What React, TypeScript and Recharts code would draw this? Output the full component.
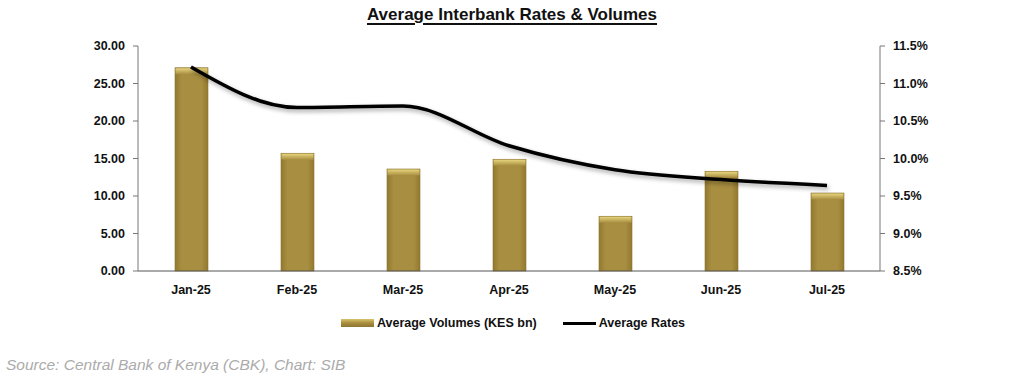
import React from 'react';
import { ComposedChart, Bar, Line, XAxis, YAxis, Legend } from 'recharts';

const months = ['Jan-25', 'Feb-25', 'Mar-25', 'Apr-25', 'May-25', 'Jun-25', 'Jul-25'];
const volumes = [27.1, 15.7, 13.6, 14.9, 7.3, 13.3, 10.4];
const rates = [11.22, 10.68, 10.7, 10.17, 9.85, 9.72, 9.64];
const volumeTicks = [0, 5, 10, 15, 20, 25, 30];
const rateTicks = [8.5, 9, 9.5, 10, 10.5, 11, 11.5];
const boundaryTicks = [0, 1, 2, 3, 4, 5, 6, 7];

const data = months.map((m, i) => ({ month: m, idx: i + 0.5, volume: volumes[i], rate: rates[i] }));

const FONT = '"Liberation Sans Narrow", "Liberation Sans", Arial, sans-serif';

const GoldBar = (props: any) => {
  const { x, y, width, height } = props;
  if (!height || height <= 0) return null;
  const cap = Math.min(6, height);
  return (
    <g>
      <rect x={x} y={y} width={width} height={height} fill="url(#goldBody)" stroke="#8c7431" strokeWidth={0.6} />
      <rect x={x + 0.5} y={y + 0.5} width={width - 1} height={cap} fill="url(#goldCap)" />
    </g>
  );
};

const LegendContent = () => (
  <div style={{ display: 'flex', justifyContent: 'center', alignItems: 'center', fontFamily: FONT, fontWeight: 'bold', fontSize: 12.5, color: '#111', height: 20, paddingLeft: 8 }}>
    <span style={{ display: 'inline-block', width: 33, height: 8, background: 'linear-gradient(#d8c46c, #a88d3e 50%, #8f7630)', marginRight: 3 }} />
    <span style={{ marginRight: 26 }}>Average Volumes (KES bn)</span>
    <span style={{ display: 'inline-block', width: 33, height: 3, background: '#000', marginRight: 3 }} />
    <span>Average Rates</span>
  </div>
);

export default function App() {
  return (
    <div style={{ position: 'absolute', left: 0, top: 0, width: 1024, height: 388, background: '#fff' }}>
      <div style={{ position: 'absolute', left: 0, top: 5, width: 1024, textAlign: 'center', fontFamily: FONT, fontWeight: 'bold', fontSize: 17, color: '#111', textDecoration: 'underline', textUnderlineOffset: 3, textDecorationThickness: 2 }}>
        Average Interbank Rates &amp; Volumes
      </div>
      <ComposedChart width={1024} height={388} data={data} margin={{ top: 46, right: 84, bottom: 55, left: 78 }}>
        <defs>
          <linearGradient id="goldBody" x1="0" y1="0" x2="1" y2="0">
            <stop offset="0%" stopColor="#93792f" />
            <stop offset="20%" stopColor="#a88e40" />
            <stop offset="80%" stopColor="#a88e40" />
            <stop offset="100%" stopColor="#93792f" />
          </linearGradient>
          <linearGradient id="goldCap" x1="0" y1="0" x2="0" y2="1">
            <stop offset="0%" stopColor="#e6d47e" />
            <stop offset="100%" stopColor="#a88e40" />
          </linearGradient>
          <filter id="lineShadow" x="-10%" y="-30%" width="120%" height="160%">
            <feDropShadow dx="1.5" dy="2.5" stdDeviation="2" floodColor="#000" floodOpacity="0.35" />
          </filter>
        </defs>
        <XAxis
          dataKey="month"
          xAxisId="cat"
          tickLine={false}
          tickSize={0}
          tickMargin={14}
          axisLine={{ stroke: '#555', strokeWidth: 1 }}
          tick={{ fontFamily: FONT, fontWeight: 'bold', fontSize: 12.5, fill: '#111' }}
          height={42}
          interval={0}
        />
        <XAxis
          xAxisId="grid"
          type="number"
          dataKey="idx"
          domain={[0, 7]}
          ticks={boundaryTicks}
          tick={false}
          axisLine={false}
          tickLine={{ stroke: '#999' }}
          tickSize={5}
          height={0}
        />
        <YAxis
          yAxisId="vol"
          orientation="left"
          domain={[0, 30]}
          ticks={volumeTicks}
          tickFormatter={(v: number) => v.toFixed(2)}
          width={60}
          tickSize={5}
          tickMargin={8}
          axisLine={{ stroke: '#777' }}
          tickLine={{ stroke: '#777' }}
          tick={{ fontFamily: FONT, fontWeight: 'bold', fontSize: 12.5, fill: '#111' }}
        />
        <YAxis
          yAxisId="rate"
          orientation="right"
          domain={[8.5, 11.5]}
          ticks={rateTicks}
          tickFormatter={(v: number) => v.toFixed(1) + '%'}
          width={60}
          tickSize={5}
          tickMargin={8}
          axisLine={{ stroke: '#777' }}
          tickLine={{ stroke: '#777' }}
          tick={{ fontFamily: FONT, fontWeight: 'bold', fontSize: 12.5, fill: '#111' }}
        />
        <Legend verticalAlign="bottom" content={<LegendContent />} />
        <Bar
          xAxisId="cat"
          yAxisId="vol"
          dataKey="volume"
          name="Average Volumes (KES bn)"
          barSize={33}
          shape={<GoldBar />}
          isAnimationActive={false}
        />
        <Line
          xAxisId="cat"
          yAxisId="rate"
          dataKey="rate"
          name="Average Rates"
          type="monotone"
          stroke="#000"
          strokeWidth={3.5}
          dot={false}
          activeDot={false}
          filter="url(#lineShadow)"
          isAnimationActive={false}
        />
      </ComposedChart>
      <div style={{ position: 'absolute', left: 6, top: 356, fontFamily: FONT, fontStyle: 'italic', fontSize: 15.5, color: '#ababab' }}>
        Source: Central Bank of Kenya (CBK), Chart: SIB
      </div>
    </div>
  );
}
